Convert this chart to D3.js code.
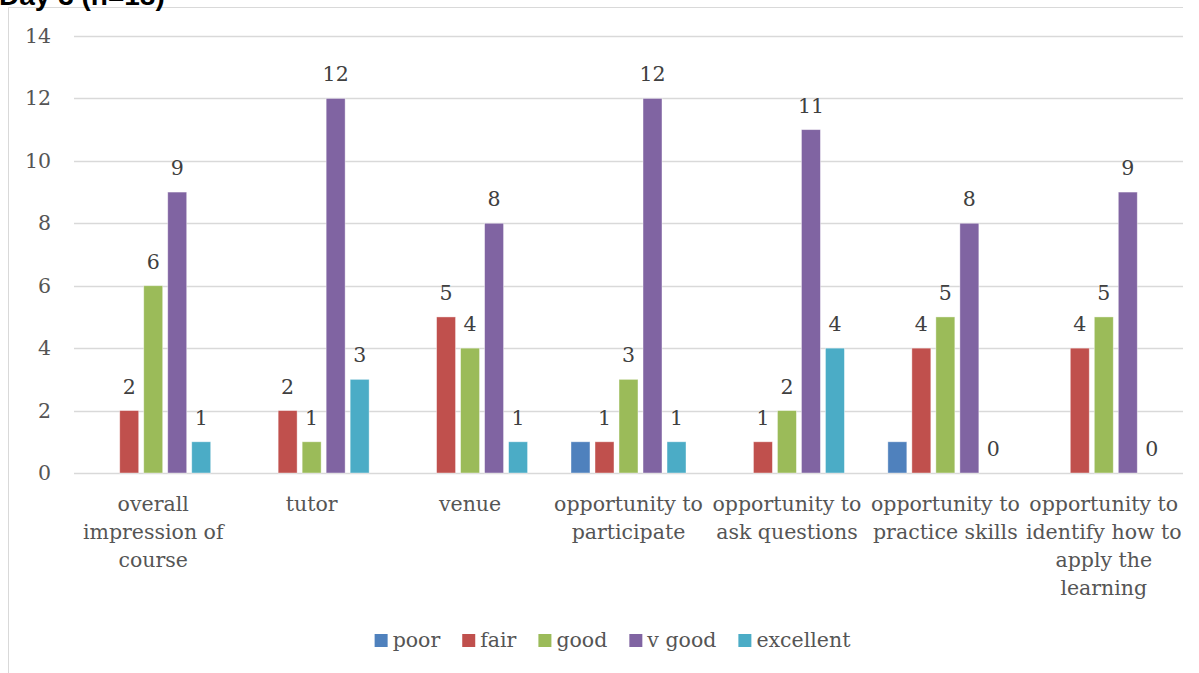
<!DOCTYPE html>
<html>
<head>
<meta charset="utf-8">
<script src="https://cdn.jsdelivr.net/npm/d3@7"></script>
<style>
  body { margin: 0; background: #fff; }
  svg { display: block; }
</style>
</head>
<body>
<div id="chart"></div>
<script>
// data
var categories = ["overall impression of course", "tutor", "venue",
                  "opportunity to participate", "opportunity to ask questions",
                  "opportunity to practice skills",
                  "opportunity to identify how to apply the learning"];
var seriesNames = ["poor", "fair", "good", "v good", "excellent"];
var poor      = [null, null, null, 1, null, 1, null];
var fair      = [2, 2, 5, 1, 1, 4, 4];
var good      = [6, 1, 4, 3, 2, 5, 5];
var vgood     = [9, 12, 8, 12, 11, 8, 9];
var excellent = [1, 3, 1, 1, 4, 0, 0];
var yTicks = [0, 2, 4, 6, 8, 10, 12, 14];
var colors = ["#4F81BD", "#C0504D", "#9BBB59", "#8064A2", "#4BACC6"];
var showLabels = [false, true, true, true, true];
var titleText = "Day 3 (n=18)";

var allSeries = [poor, fair, good, vgood, excellent];

var W = 1199, H = 673;
var margin = {top: 36, left: 74, right: 16, bottom: 200};
var textFont = "'DejaVu Serif', serif";
var textColor = "#555555";
var fs = 20.5;

var svg = d3.select("#chart").append("svg")
    .attr("width", W)
    .attr("height", H);

// chart frame (only top and left edges are visible)
svg.append("line")
    .attr("x1", 8.5).attr("x2", 1183).attr("y1", 7.5).attr("y2", 7.5)
    .attr("stroke", "#d9d9d9");
svg.append("line")
    .attr("x1", 8.5).attr("x2", 8.5).attr("y1", 7.5).attr("y2", H)
    .attr("stroke", "#d9d9d9");

// title, cut off at the top like in the source
svg.append("text")
    .attr("x", -1)
    .attr("y", 5)
    .style("font-family", "'Liberation Sans', Arial, sans-serif")
    .style("font-weight", "bold")
    .style("font-size", "28px")
    .attr("fill", "#000")
    .text(titleText);

var plotRight = 1183;
var x0 = d3.scaleBand().domain(categories).range([margin.left, plotRight]);
var x1 = d3.scaleBand().domain(seriesNames)
    .range([0, x0.bandwidth()])
    .paddingInner(0.21).paddingOuter(0.905);
var y = d3.scaleLinear().domain([0, 14]).range([473, 36]);

// gridlines
svg.append("g").selectAll("line")
    .data(yTicks)
    .enter().append("line")
    .attr("x1", margin.left).attr("x2", plotRight)
    .attr("y1", function(d) { return Math.round(y(d)) + 0.5; })
    .attr("y2", function(d) { return Math.round(y(d)) + 0.5; })
    .attr("stroke", "#d9d9d9")
    .attr("stroke-width", 1.3);

// y axis labels
var yAxis = d3.axisLeft(y).tickValues(yTicks).tickSize(0).tickPadding(23);
var gy = svg.append("g")
    .attr("transform", "translate(" + margin.left + ",0)")
    .call(yAxis);
gy.select(".domain").remove();
gy.selectAll("text")
    .style("font-family", textFont)
    .style("font-size", fs + "px")
    .attr("fill", textColor);

// bars
allSeries.forEach(function(vals, si) {
    var g = svg.append("g");
    var pts = categories.map(function(c, i) { return {cat: c, v: vals[i]}; })
        .filter(function(d) { return d.v !== null; });
    g.selectAll("rect")
        .data(pts)
        .enter().append("rect")
        .attr("x", function(d) { return x0(d.cat) + x1(seriesNames[si]); })
        .attr("width", x1.bandwidth())
        .attr("y", function(d) { return y(d.v); })
        .attr("height", function(d) { return y(0) - y(d.v); })
        .attr("fill", colors[si])
        .attr("stroke", "#fff")
        .attr("stroke-opacity", 0.5)
        .attr("stroke-width", 0.8);
    if (showLabels[si]) {
        g.selectAll("text")
            .data(pts)
            .enter().append("text")
            .attr("x", function(d) { return x0(d.cat) + x1(seriesNames[si]) + x1.bandwidth() / 2; })
            .attr("y", function(d) { return y(d.v) - 17; })
            .attr("text-anchor", "middle")
            .style("font-family", textFont)
            .style("font-size", fs + "px")
            .attr("fill", "#404040")
            .text(function(d) { return d.v; });
    }
});

// category labels, wrapped to the band width
var gx = svg.append("g");
categories.forEach(function(c) {
    var t = gx.append("text")
        .attr("x", x0(c) + x0.bandwidth() / 2)
        .attr("y", 511)
        .attr("text-anchor", "middle")
        .style("font-family", textFont)
        .style("font-size", fs + "px")
        .attr("fill", textColor);
    var words = c.split(" ");
    var lines = [];
    var line = [];
    var probe = t.append("tspan");
    words.forEach(function(w) {
        line.push(w);
        probe.text(line.join(" "));
        if (probe.node().getComputedTextLength() > 160 && line.length > 1) {
            line.pop();
            lines.push(line.join(" "));
            line = [w];
        }
    });
    lines.push(line.join(" "));
    probe.remove();
    lines.forEach(function(l, i) {
        t.append("tspan")
            .attr("x", x0(c) + x0.bandwidth() / 2)
            .attr("y", 511 + i * 28)
            .text(l);
    });
});

// legend, centred under the plot
var legend = svg.append("g");
var lx = 0;
seriesNames.forEach(function(s, i) {
    var item = legend.append("g").attr("transform", "translate(" + lx + ",0)");
    item.append("rect")
        .attr("x", 0).attr("y", -13)
        .attr("width", 13).attr("height", 13)
        .attr("fill", colors[i]);
    var t = item.append("text")
        .attr("x", 18).attr("y", 0)
        .style("font-family", textFont)
        .style("font-size", fs + "px")
        .attr("fill", textColor)
        .text(s);
    lx += 18 + t.node().getComputedTextLength() + 22;
});
var legendW = lx - 22;
legend.attr("transform", "translate(" + (612.5 - legendW / 2) + ",647)");
</script>
</body>
</html>
